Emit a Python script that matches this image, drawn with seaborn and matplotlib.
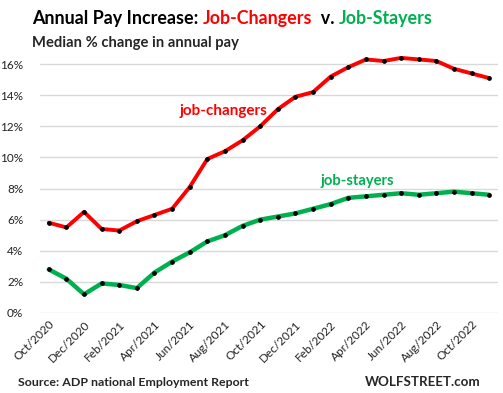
import matplotlib
matplotlib.use("Agg")
import matplotlib.pyplot as plt
import seaborn as sns
import pandas as pd

# ---- data ----------------------------------------------------------------
months = ["Oct/2020", "Nov/2020", "Dec/2020", "Jan/2021", "Feb/2021", "Mar/2021",
          "Apr/2021", "May/2021", "Jun/2021", "Jul/2021", "Aug/2021", "Sep/2021",
          "Oct/2021", "Nov/2021", "Dec/2021", "Jan/2022", "Feb/2022", "Mar/2022",
          "Apr/2022", "May/2022", "Jun/2022", "Jul/2022", "Aug/2022", "Sep/2022",
          "Oct/2022", "Nov/2022"]
job_changers = [5.8, 5.5, 6.5, 5.4, 5.3, 5.9, 6.3, 6.7, 8.1, 9.9, 10.4, 11.1,
                12.0, 13.1, 13.9, 14.2, 15.2, 15.8, 16.3, 16.2, 16.4, 16.3, 16.2,
                15.7, 15.4, 15.1]
job_stayers = [2.8, 2.2, 1.2, 1.9, 1.8, 1.6, 2.6, 3.3, 3.9, 4.6, 5.0, 5.6,
               6.0, 6.2, 6.4, 6.7, 7.0, 7.4, 7.5, 7.6, 7.7, 7.6, 7.7, 7.8,
               7.7, 7.6]
y_ticks = [0, 2, 4, 6, 8, 10, 12, 14, 16]

RED = "#FF0000"
GREEN = "#00B050"
FONT = ["Lato", "DejaVu Sans"]

df = pd.DataFrame({"idx": range(len(months)), "changers": job_changers,
                   "stayers": job_stayers})

sns.set_theme(style="white")
plt.rcParams["font.family"] = FONT

fig = plt.figure(figsize=(5.03, 3.93), dpi=100)
ax = fig.add_axes([0.0795, 0.2036, 0.9106, 0.657])

for col, color, lw in [("stayers", GREEN, 3.2), ("changers", RED, 2.8)]:
    sns.lineplot(data=df, x="idx", y=col, ax=ax, color=color, linewidth=lw,
                 marker="o", markersize=2.6, markerfacecolor="black",
                 markeredgecolor="black", clip_on=False)

ax.set_xlim(-0.5, len(months) - 0.5)
ax.set_ylim(0, 16.6)
ax.set_yticks(y_ticks)
ax.set_yticklabels([f"{t}%" for t in y_ticks], fontsize=8.5, color="#222222")
ax.yaxis.grid(True, color="#D9D9D9", linewidth=1)
ax.set_axisbelow(True)
for s in ax.spines.values():
    s.set_visible(False)
ax.tick_params(axis="y", length=0, pad=12)

tick_pos = list(range(0, len(months), 2))
ax.set_xticks(tick_pos)
ax.set_xticklabels([months[i] for i in tick_pos], rotation=45, ha="right",
                   rotation_mode="anchor", fontsize=8.5, color="#222222")
ax.tick_params(axis="x", length=0, pad=4)
ax.set_xlabel("")
ax.set_ylabel("")

# series labels
ax.text(7.45, 13.0, "job-changers", color=RED, fontsize=11, fontweight="bold",
        va="center", ha="left")
ax.text(15.4, 8.5, "job-stayers", color=GREEN, fontsize=10.6, fontweight="bold",
        va="center", ha="left")

# multi-colored title
renderer = fig.canvas.get_renderer()
x = 32 / 503
for piece, color in [("Annual Pay Increase: ", "black"), ("Job-Changers", RED),
                     ("  v. ", "black"), ("Job-Stayers", GREEN)]:
    t = fig.text(x, 1 - 24 / 393, piece, color=color, fontsize=12.9,
                 fontweight="bold", va="baseline", ha="left")
    bb = t.get_window_extent(renderer=renderer)
    x = bb.x1 / fig.bbox.width

fig.text(32 / 503, 1 - 47 / 393, "Median % change in annual pay", fontsize=10.6,
         fontweight="bold", va="baseline", ha="left")

fig.text(18 / 503, 1 - 386 / 393, "Source: ADP national Employment Report",
         fontsize=8.9, fontweight="bold", va="baseline", ha="left")
fig.text(481 / 503, 1 - 386 / 393, "WOLFSTREET.com", fontsize=9.6,
         fontweight="bold", va="baseline", ha="right")

fig.savefig("out.png", dpi=100)
